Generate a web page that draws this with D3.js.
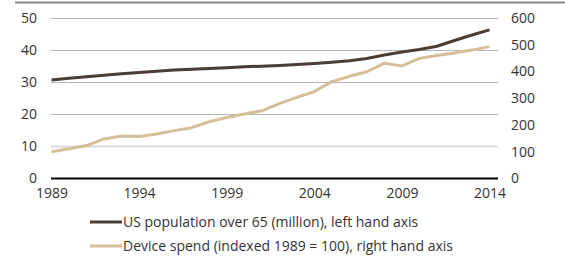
<!DOCTYPE html>
<html>
<head>
<meta charset="utf-8">
<script src="https://cdnjs.cloudflare.com/ajax/libs/d3/7.8.5/d3.min.js"></script>
<style>
  body { margin: 0; background: #fff; }
  svg text { font-family: "Open Sans", "Noto Sans", sans-serif; fill: #333; }
</style>
</head>
<body>
<div id="chart-area"></div>
<script>
// Data
var years = d3.range(1989, 2015);
var population = [30.7, 31.2, 31.7, 32.2, 32.6, 33.0, 33.4, 33.8, 34.0, 34.3,
                  34.5, 34.8, 35.0, 35.2, 35.5, 35.8, 36.2, 36.7, 37.4, 38.5,
                  39.4, 40.2, 41.2, 43.0, 44.7, 46.3];
var deviceSpend = [100, 111, 123, 148, 159, 157, 166, 179, 190, 212,
                   228, 241, 253, 280, 303, 325, 362, 382, 399, 431,
                   421, 449, 460, 469, 480, 493];
var leftTicks = [0, 10, 20, 30, 40, 50];
var rightTicks = [0, 100, 200, 300, 400, 500, 600];
var xTicks = [1989, 1994, 1999, 2004, 2009, 2014];
var seriesNames = ["US population over 65 (million), left hand axis",
                   "Device spend (indexed 1989 = 100), right hand axis"];
var colors = ["#4b3c35", "#d3bf9a"];

var width = 565, height = 258;
var plotLeft = 51, plotRight = 498, plotTop = 18, plotBottom = 178.5;

var svg = d3.select("#chart-area")
    .append("svg")
        .attr("width", width)
        .attr("height", height);

// Scales
var x = d3.scaleLinear().domain([1989, 2014]).range([51.5, 489.5]);
var yLeft = d3.scaleLinear().domain([0, 50]).range([plotBottom, plotTop]);
var yRight = d3.scaleLinear().domain([0, 600]).range([plotBottom, plotTop]);

// top rule
svg.append("line")
    .attr("x1", 15).attr("x2", width)
    .attr("y1", 2.5).attr("y2", 2.5)
    .attr("stroke", "#8a8a8a")
    .attr("stroke-width", 2);

// Gridlines
svg.append("g").selectAll("line")
    .data(leftTicks.filter(function(d){ return d > 0; }))
    .enter().append("line")
        .attr("x1", plotLeft).attr("x2", plotRight)
        .attr("y1", function(d){ return Math.round(yLeft(d)) + 0.5; })
        .attr("y2", function(d){ return Math.round(yLeft(d)) + 0.5; })
        .attr("stroke", function(d){ return d === 10 ? "#dcdcdc" : "#b5b5b5"; })
        .attr("stroke-width", function(d){ return d === 10 ? 2 : 1; });

// Left axis
var leftAxis = svg.append("g")
    .attr("transform", "translate(" + plotLeft + ",0)")
    .call(d3.axisLeft(yLeft).tickValues(leftTicks).tickSize(0).tickPadding(14));
leftAxis.select(".domain").remove();
leftAxis.selectAll("text")
    .attr("font-size", "14px")
    .attr("font-family", null);

// Right axis (own spacing, labels only)
var rightAxis = svg.append("g")
    .attr("transform", "translate(" + plotRight + ",0)")
    .call(d3.axisRight(yRight).tickValues(rightTicks).tickSize(0).tickPadding(13));
rightAxis.select(".domain").remove();
rightAxis.selectAll("text")
    .attr("font-size", "14px")
    .attr("font-family", null);

// X axis labels
var xAxis = svg.append("g")
    .attr("transform", "translate(0," + plotBottom + ")")
    .call(d3.axisBottom(x).tickValues(xTicks).tickFormat(d3.format("d")).tickSize(0).tickPadding(10));
xAxis.select(".domain").remove();
xAxis.selectAll("text")
    .attr("font-size", "14px")
    .attr("font-family", null);

// Zero line
svg.append("line")
    .attr("x1", plotLeft).attr("x2", plotRight)
    .attr("y1", plotBottom).attr("y2", plotBottom)
    .attr("stroke", "#000")
    .attr("stroke-width", 2);

// Lines
var lineLeft = d3.line()
    .x(function(d, i){ return x(years[i]); })
    .y(function(d){ return yLeft(d); });
var lineRight = d3.line()
    .x(function(d, i){ return x(years[i]); })
    .y(function(d){ return yRight(d); });

svg.append("path")
    .datum(deviceSpend)
    .attr("fill", "none")
    .attr("stroke", colors[1])
    .attr("stroke-width", 3)
    .attr("stroke-linejoin", "round")
    .attr("d", lineRight);

svg.append("path")
    .datum(population)
    .attr("fill", "none")
    .attr("stroke", colors[0])
    .attr("stroke-width", 3)
    .attr("stroke-linejoin", "round")
    .attr("d", lineLeft);

// Legend
var legend = svg.append("g").selectAll("g")
    .data(seriesNames)
    .enter().append("g")
        .attr("transform", function(d, i){ return "translate(90," + (222 + i * 24) + ")"; });

legend.append("line")
    .attr("x1", 0).attr("x2", 32)
    .attr("stroke", function(d, i){ return colors[i]; })
    .attr("stroke-width", 3);

legend.append("text")
    .attr("x", 33)
    .attr("dy", "0.35em")
    .attr("font-size", "14px")
    .text(function(d){ return d; });
</script>
</body>
</html>
